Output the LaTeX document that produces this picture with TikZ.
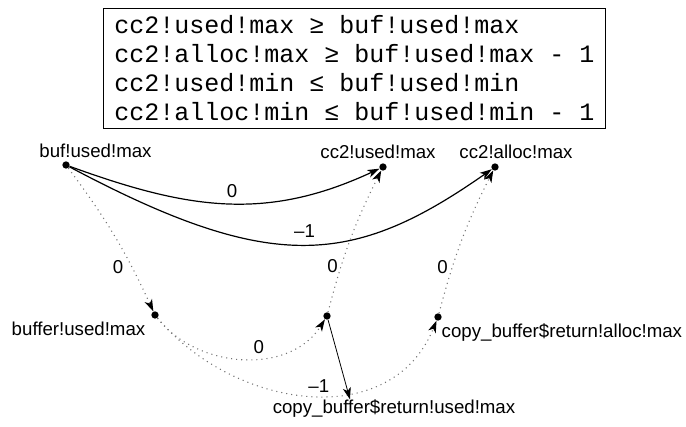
\documentclass[tikz,border=0pt]{standalone}
\usepackage{fontspec}
\setmainfont{Liberation Sans}
\newfontfamily\codefont{Liberation Mono}
\usetikzlibrary{arrows.meta}
\tikzset{
  Punkt/.style={circle, fill=black, inner sep=0pt, minimum size=5.5pt}, % Knotenpunkte
  Name/.style={anchor=base}, % Knotennamen
  Bogen/.style={->, line width=0.9pt}, % durchgezogene Kanten
  PBogen/.style={->, black!55, line width=0.8pt, dash pattern=on 0.8pt off 3pt}, % punktierte Kanten
  Wert/.style={text=black, inner sep=2pt} % Kantengewichte
}

\begin{document}
\begin{tikzpicture}[x=0.75pt, y=0.75pt,
font=\fontsize{14}{16}\selectfont,
>={Stealth[length=9pt, width=6pt, inset=2.5pt, black]} % Pfeilspitzen
]
\useasboundingbox (0,0) rectangle (686,427);

%Ungleichungen
\node[draw, line width=0.7pt, align=left, inner sep=0pt,
  minimum width=377pt, minimum height=90pt,
  font=\codefont\fontsize{18.75}{21.75}\selectfont] (Ungl) at (354.5,359)
{cc2!used!max ≥ buf!used!max\\
cc2!alloc!max ≥ buf!used!max - 1\\
cc2!used!min ≤ buf!used!min\\
cc2!alloc!min ≤ buf!used!min - 1};

%Knoten
\node[Punkt] (bufum) at (66,262) {};
\node[Punkt] (cc2um) at (383,260) {};
\node[Punkt] (cc2am) at (495,260) {};
\node[Punkt] (bufferum) at (155,112) {};
\node[Punkt] (cbrum) at (327,111) {};
\node[Punkt] (cbram) at (438,110) {};

%Knotennamen
\node[Name] (bufumtext) at (95.5,269) {buf!used!max};
\node[Name] (cc2umtext) at (378,268) {cc2!used!max};
\node[Name] (cc2amtext) at (516,268) {cc2!alloc!max};
\node[Name] (bufferumtext) at (78.5,91) {buffer!used!max};
\node[Name] (cbrumtext) at (394,13) {copy\_buffer\$return!used!max};
\node[Name, anchor=base west] (cbramtext) at (437,89) {copy\_buffer\$return!alloc!max};

%Kanten
\draw[Bogen] (bufum) to[out=-20, in=205, distance=94pt]
  node[Wert, pos=0.52, above=2pt] (w1) {0} (cc2um);
\draw[Bogen] (bufum) to[out=-28, in=215, out distance=172pt, in distance=127pt]
  node[Wert, pos=0.5, above=3pt] (w2) {\textendash1} (cc2am);
\draw[PBogen] (bufum) to[bend left=6]
  node[Wert, pos=0.72, left=4pt] (w3) {0} (bufferum);
\draw[PBogen] (bufferum) to[out=-52, in=238]
  node[Wert, pos=0.58, above=1pt] (w4) {0} (cbrum);
\draw[PBogen] (bufferum) to[out=-50, in=248, looseness=1.1]
  node[Wert, pos=0.53, above=0pt] (w5) {\textendash1} (cbram);
\draw[PBogen] (cbrum) to[bend left=6]
  node[Wert, pos=0.3, left=0pt] (w6) {0} (cc2um);
\draw[PBogen] (cbram) to[bend left=6]
  node[Wert, pos=0.3, left=1pt] (w7) {0} (cc2am);

%Verweis auf Knotennamen
\draw[->, line width=0.6pt] (cbrum) -- ([xshift=-33pt, yshift=-3pt]cbrumtext.north);

\end{tikzpicture}
\end{document}
